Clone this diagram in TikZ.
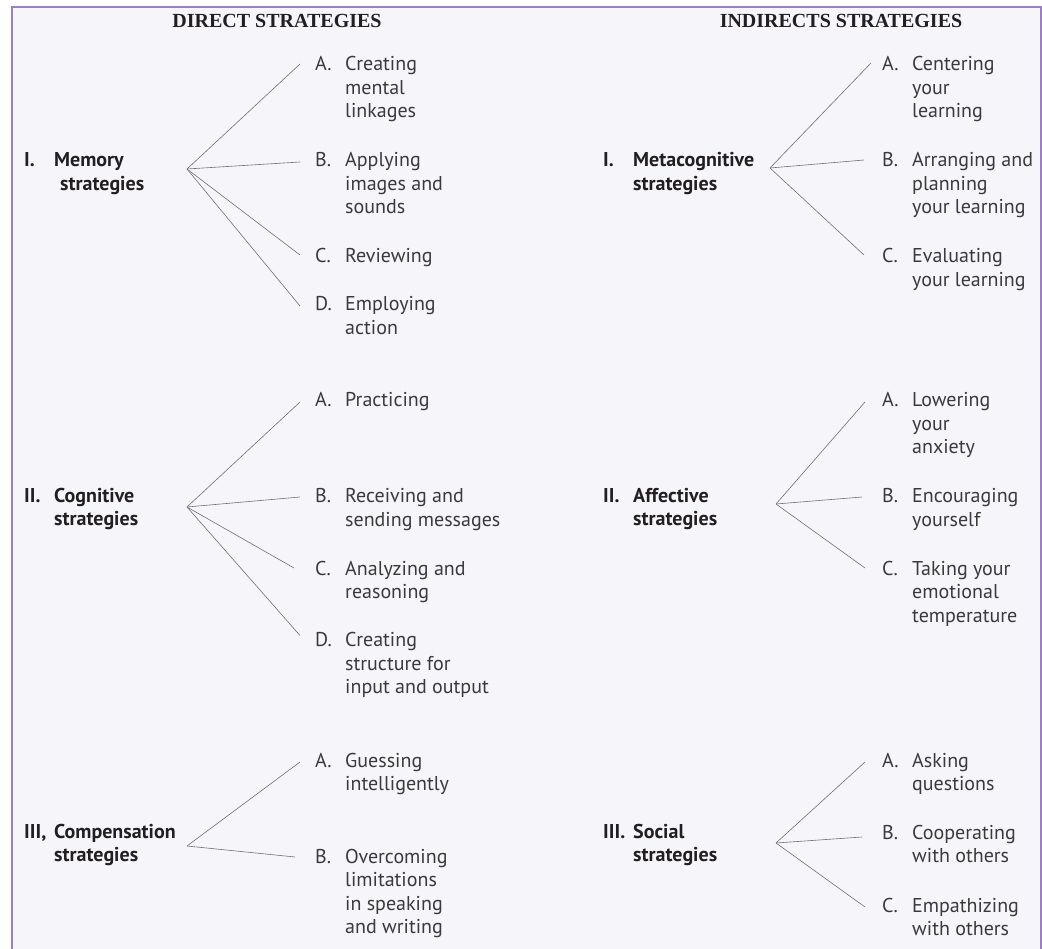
\documentclass[tikz,border=0pt]{standalone}
\usepackage{fontspec}
\setmainfont{PT Sans}
\newfontfamily\headfont{Liberation Serif}
\usepackage{array}
\definecolor{bgc}{HTML}{F6F6FA}
\definecolor{bordc}{HTML}{9A80C2}
\definecolor{txtc}{HTML}{3A3A3A}
\definecolor{lblc}{HTML}{231F20}
\definecolor{linec}{HTML}{707070}
\newcommand\itm[2]{\begin{tabular}[t]{@{}p{30pt}@{}l@{}}#1&#2\end{tabular}}
\tikzset{
  itembox/.style={anchor=base west, inner sep=0pt, text=txtc, font=\fontsize{20}{23.5}\selectfont},
  grpbox/.style={anchor=base west, inner sep=0pt, text=lblc, font=\fontsize{20}{23.5}\selectfont\bfseries},
  headbox/.style={anchor=base, inner sep=0pt, text=lblc, font=\fontsize{20}{24}\selectfont\headfont\bfseries},
  conn/.style={draw=linec, line width=0.6pt}
}
\begin{document}
\begin{tikzpicture}[x=1pt,y=-1pt]
\useasboundingbox (0,0) rectangle (1042,949);
\fill[white] (0,0) rectangle (1042,949);
\fill[bgc] (12,7) rectangle (1040.5,949);
\draw[bordc, line width=2pt] (12,949) -- (12,7) -- (1040.5,7) -- (1040.5,949);

% headers
\node[headbox] (hd) at (277,28) {DIRECT STRATEGIES};
\node[headbox] (hi) at (841,28) {INDIRECTS STRATEGIES};

% ---------- Memory ----------
\node[grpbox] (gm) at (24,167) {\itm{I.}{Memory\\&\hspace{6pt}strategies}};
\coordinate (om) at (187,169);
\node[itembox] (mA) at (315,71) {\itm{A.}{Creating\\&mental\\&linkages}};
\node[itembox] (mB) at (315,167) {\itm{B.}{Applying\\&images and\\&sounds}};
\node[itembox] (mC) at (315,263) {\itm{C.}{Reviewing}};
\node[itembox] (mD) at (315,311) {\itm{D.}{Employing\\&action}};
\draw[conn] (om) -- ([shift={(-15,-7)}]mA.base west);
\draw[conn] (om) -- ([shift={(-15,-5)}]mB.base west);
\draw[conn] (om) -- ([shift={(-15,-8)}]mC.base west);
\draw[conn] (om) -- ([shift={(-15,-5)}]mD.base west);

% ---------- Cognitive ----------
\node[grpbox] (gc) at (24,502) {\itm{II.}{Cognitive\\&strategies}};
\coordinate (oc) at (187,507);
\node[itembox] (cA) at (315,407) {\itm{A.}{Practicing}};
\node[itembox] (cB) at (315,503) {\itm{B.}{Receiving and\\&sending messages}};
\node[itembox] (cC) at (315,575) {\itm{C.}{Analyzing and\\&reasoning}};
\node[itembox] (cD) at (315,646.5) {\itm{D.}{Creating\\&structure for\\&input and output}};
\draw[conn] (oc) -- ([shift={(-15,-5)}]cA.base west);
\draw[conn] (oc) -- ([shift={(-15,-6)}]cB.base west);
\draw[conn] (oc) -- ([shift={(-21,-7)}]cC.base west);
\draw[conn] (oc) -- ([shift={(-15,-11)}]cD.base west);

% ---------- Compensation ----------
\node[grpbox] (gp) at (24,838) {\itm{III,}{Compensation\\&strategies}};
\coordinate (op) at (187,846);
\node[itembox] (pA) at (315,767) {\itm{A.}{Guessing\\&intelligently}};
\node[itembox] (pB) at (315,863) {\itm{B.}{Overcoming\\&limitations\\&in speaking\\&and writing}};
\draw[conn] (op) -- ([shift={(-15,-5)}]pA.base west);
\draw[conn] (op) -- ([shift={(-20,-6)}]pB.base west);

% ---------- Metacognitive ----------
\node[grpbox] (gt) at (603,167) {\itm{I.}{Metacognitive\\&strategies}};
\coordinate (ot) at (770,168);
\node[itembox] (tA) at (882,71) {\itm{A.}{Centering\\&your\\&learning}};
\node[itembox] (tB) at (882,167) {\itm{B.}{Arranging and\\&planning\\&your learning}};
\node[itembox] (tC) at (882,263) {\itm{C.}{Evaluating\\&your learning}};
\draw[conn] (ot) -- ([shift={(-11,-8)}]tA.base west);
\draw[conn] (ot) -- ([shift={(-18,-7)}]tB.base west);
\draw[conn] (ot) -- ([shift={(-18,-8)}]tC.base west);

% ---------- Affective ----------
\node[grpbox] (ga) at (603,502) {\itm{II.}{Affective\\&strategies}};
\coordinate (oa) at (776,504);
\node[itembox] (aA) at (882,407) {\itm{A.}{Lowering\\&your\\&anxiety}};
\node[itembox] (aB) at (882,503) {\itm{B.}{Encouraging\\&yourself}};
\node[itembox] (aC) at (882,575) {\itm{C.}{Taking your\\&emotional\\&temperature}};
\draw[conn] (oa) -- ([shift={(-17,-5)}]aA.base west);
\draw[conn] (oa) -- ([shift={(-20,-6)}]aB.base west);
\draw[conn] (oa) -- ([shift={(-17,-7)}]aC.base west);

% ---------- Social ----------
\node[grpbox] (gs) at (603,838) {\itm{III.}{Social\\&strategies}};
\coordinate (os) at (776,843);
\node[itembox] (sA) at (882,767) {\itm{A.}{Asking\\&questions}};
\node[itembox] (sB) at (882,839) {\itm{B.}{Cooperating\\&with others}};
\node[itembox] (sC) at (882,912) {\itm{C.}{Empathizing\\&with others}};
\draw[conn] (os) -- ([shift={(-17,-5)}]sA.base west);
\draw[conn] (os) -- ([shift={(-20,-2)}]sB.base west);
\draw[conn] (os) -- ([shift={(-17,-5)}]sC.base west);
\end{tikzpicture}
\end{document}
